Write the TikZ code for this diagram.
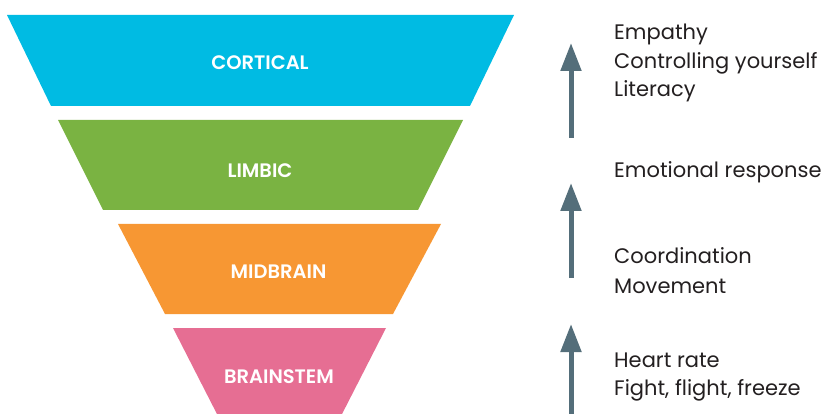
\documentclass[tikz,border=0pt]{standalone}
\usepackage{fontspec}
\setmainfont{Poppins}
\newfontfamily\labfont{Poppins SemiBold}
\usetikzlibrary{arrows.meta}
\definecolor{cortc}{HTML}{00BBE3}
\definecolor{limbc}{HTML}{7AB342}
\definecolor{midc}{HTML}{F79733}
\definecolor{brainc}{HTML}{E66E93}
\definecolor{arrc}{HTML}{546E7A}
\definecolor{txtc}{HTML}{231F20}
\tikzset{
  layer/.style={draw=none},
  lab/.style={text=white, font=\fontsize{19.5}{20}\labfont, anchor=base, inner sep=0pt},
  desc/.style={text=txtc, font=\fontsize{21}{22}\selectfont, anchor=base west, inner sep=0pt},
  uparrow/.style={draw=arrc, line width=5pt, -{Triangle[width=20pt,length=28pt]}}
}
\begin{document}
\begin{tikzpicture}[x=1pt,y=-1pt]
\useasboundingbox (0,0) rectangle (822,414);
% layers
\fill[cortc,layer] (7,15) -- (514,15) -- (470,106) -- (51,106) -- cycle;
\fill[limbc,layer] (58,120) -- (463,120) -- (418,210) -- (103,210) -- cycle;
\fill[midc,layer] (118,224) -- (441,224) -- (393,314) -- (165,314) -- cycle;
\fill[brainc,layer] (173,328) -- (386,328) -- (340,418) -- (219,418) -- cycle;
% labels
\node[lab] (cort) at (260,70) {CORTICAL};
\node[lab] (limb) at (260,178) {LIMBIC};
\node[lab] (mid) at (278.5,278) {MIDBRAIN};
\node[lab] (bstem) at (279,383) {BRAINSTEM};
% arrows
\coordinate (a1s) at (571,138);
\coordinate (a1e) at (571,43);
\coordinate (a2s) at (571,278);
\coordinate (a2e) at (571,183);
\coordinate (a3s) at (571,420);
\coordinate (a3e) at (571,324);
\draw[uparrow] (a1s) -- (a1e);
\draw[uparrow] (a2s) -- (a2e);
\draw[uparrow] (a3s) -- (a3e);
% descriptions
\node[desc] (d1) at (614,40) {Empathy};
\node[desc] (d2) at (614,68.5) {Controlling yourself};
\node[desc] (d3) at (614,97) {Literacy};
\node[desc] (d4) at (614,178) {Emotional response};
\node[desc] (d5) at (614,263) {Coordination};
\node[desc] (d6) at (614,293) {Movement};
\node[desc] (d7) at (614,367) {Heart rate};
\node[desc] (d8) at (614,395) {Fight, flight, freeze};
\end{tikzpicture}
\end{document}
